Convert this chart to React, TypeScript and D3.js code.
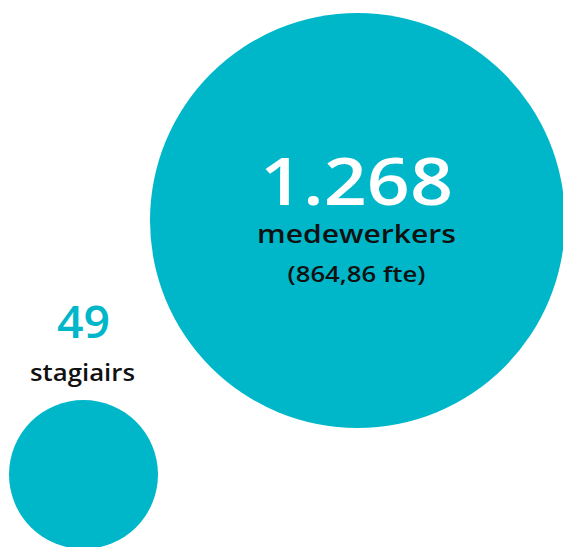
import React, { useEffect, useRef } from 'react';
import * as d3 from 'd3';

// headcounts shown as bubbles
const groups = ['medewerkers', 'stagiairs'];
const counts = [1268, 49];
const countLabels = ['1.268', '49'];
const subLabels = ['(864,86 fte)', ''];

const TEAL = '#00b7ca';

export default function App() {
  const ref = useRef<SVGSVGElement>(null);

  useEffect(() => {
    const width = 563;
    const height = 547;

    const svg = d3.select(ref.current).attr('width', width).attr('height', height);
    svg.selectAll('*').remove();

    const rScale = d3
      .scaleLinear()
      .domain([d3.min(counts) as number, d3.max(counts) as number])
      .range([74.5, 207.5]);

    const rBig = rScale(counts[0]);
    const rSmall = rScale(counts[1]);

    // big bubble sits against the right edge, small one bottom left
    const centers = [
      { x: width + 2 - rBig, y: 13 + rBig },
      { x: 9 + rSmall, y: 400 + rSmall },
    ];

    const font = '"Open Sans", "Noto Sans", sans-serif';

    svg
      .selectAll('circle')
      .data(counts)
      .enter()
      .append('circle')
      .attr('cx', (d, i) => centers[i].x)
      .attr('cy', (d, i) => centers[i].y)
      .attr('r', (d) => rScale(d))
      .attr('fill', TEAL);

    // big bubble: labels inside
    const big = svg
      .append('g')
      .attr('transform', `translate(${centers[0].x - 1}, ${centers[0].y})`)
      .attr('text-anchor', 'middle')
      .attr('font-family', font)
      .attr('font-weight', 600);

    big
      .append('text')
      .attr('y', -15.5)
      .attr('font-size', 65)
      .attr('fill', '#fff')
      .attr('textLength', 193)
      .attr('lengthAdjust', 'spacingAndGlyphs')
      .text(countLabels[0]);

    big
      .append('text')
      .attr('y', 22.5)
      .attr('font-size', 26)
      .attr('fill', '#111')
      .attr('textLength', 199)
      .attr('lengthAdjust', 'spacingAndGlyphs')
      .text(groups[0]);

    big
      .append('text')
      .attr('y', 61.5)
      .attr('font-size', 21)
      .attr('fill', '#111')
      .attr('textLength', 138)
      .attr('lengthAdjust', 'spacingAndGlyphs')
      .text(subLabels[0]);

    // small bubble: labels above
    const small = svg
      .append('g')
      .attr('transform', `translate(${centers[1].x}, ${centers[1].y})`)
      .attr('text-anchor', 'middle')
      .attr('font-family', font)
      .attr('font-weight', 600);

    small
      .append('text')
      .attr('y', -136.5)
      .attr('font-size', 46)
      .attr('fill', TEAL)
      .attr('textLength', 53)
      .attr('lengthAdjust', 'spacingAndGlyphs')
      .text(countLabels[1]);

    small
      .append('text')
      .attr('x', -1)
      .attr('y', -93.5)
      .attr('font-size', 23)
      .attr('fill', '#111')
      .attr('textLength', 105)
      .attr('lengthAdjust', 'spacingAndGlyphs')
      .text(groups[1]);
  }, []);

  return (
    <svg
      ref={ref}
      style={{ position: 'absolute', left: 0, top: 0, display: 'block' }}
    />
  );
}
